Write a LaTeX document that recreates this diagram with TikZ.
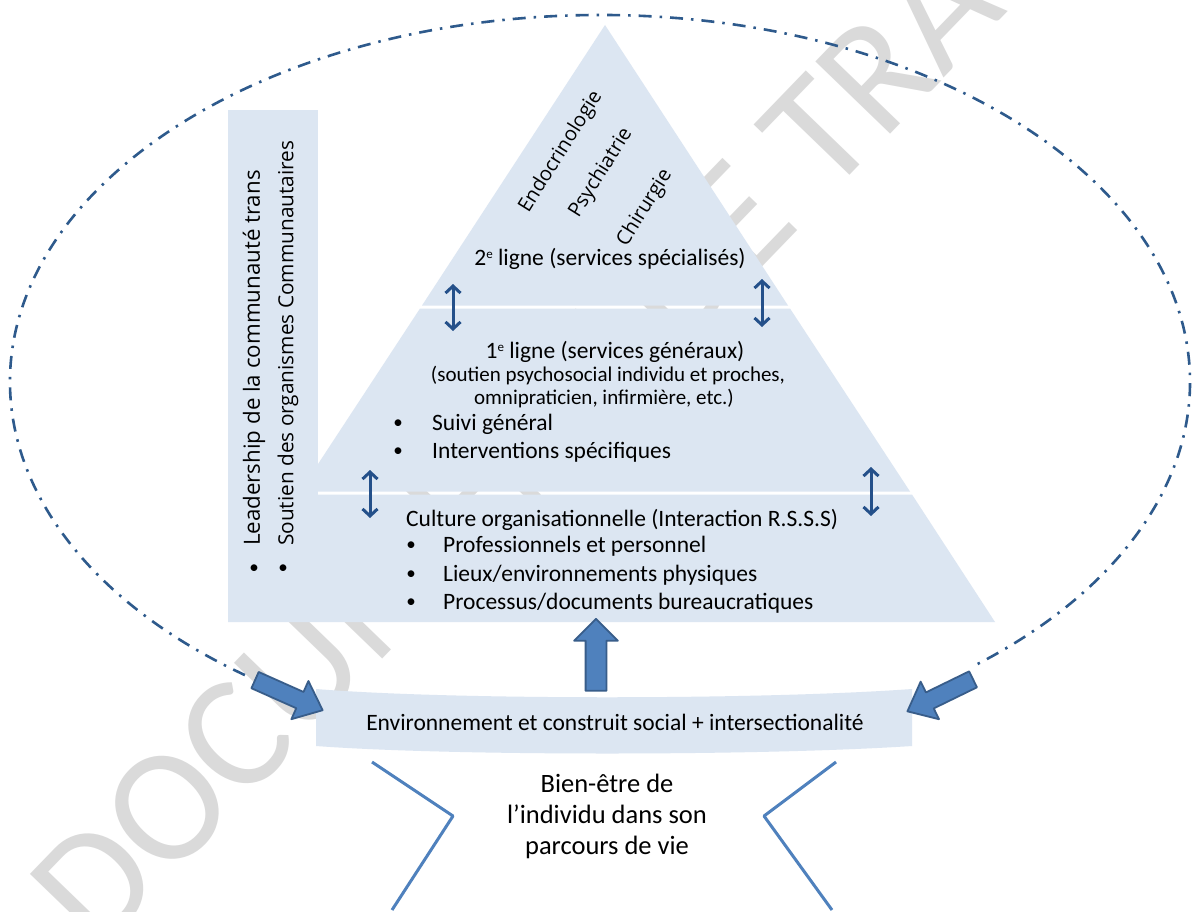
\documentclass[tikz,border=0pt]{standalone}
\usepackage{fontspec}
\setmainfont{Carlito}
\newfontfamily\uifont{Open Sans}
\usetikzlibrary{arrows.meta,calc,positioning,shapes.arrows}
\definecolor{bandFill}{HTML}{DCE6F2}
\definecolor{navyLink}{HTML}{24508A}
\definecolor{ringBlue}{HTML}{2E5A8C}
\definecolor{blockFill}{HTML}{4F81BD}
\definecolor{blockLine}{HTML}{385D8A}
\definecolor{markGray}{HTML}{DADADA}
\newcommand{\supe}{\raisebox{0.6ex}{\fontsize{13}{13}\selectfont e}}

\begin{document}
\begin{tikzpicture}[x=1pt,y=-1pt,>={Straight Barb[length=7pt,width=15pt]},line join=round]
\path[fill=white] (0,0) rectangle (1193,912);
\useasboundingbox (0,0) rectangle (1193,912);
\clip (0,0) rectangle (1193,912);
\tikzset{band/.style={fill=bandFill,draw=none},
  lbl/.style={font=\fontsize{23.5}{27}\selectfont,inner sep=0pt},
  smalllbl/.style={font=\fontsize{21}{24}\selectfont,inner sep=0pt},
  speciality/.style={font=\uifont\fontsize{20}{24}\selectfont,rotate=58,inner sep=0pt},
  sidelbl/.style={font=\uifont\fontsize{22}{26}\selectfont,rotate=90,anchor=west,inner sep=0pt},
  dot/.style={font=\fontsize{19}{23}\selectfont,inner sep=0pt},
  link/.style={draw=navyLink,line width=3pt,<->},
  ring/.style={draw=ringBlue,line width=2.6pt,dash pattern=on 13pt off 8pt on 2.5pt off 8pt},
  fatarrow/.style={single arrow,draw=blockLine,fill=blockFill,line width=1.8pt,inner xsep=0pt,minimum width=0pt},
  bracket/.style={draw=blockFill,line width=3pt}}
% watermark, under everything else
\node[text=markGray,font=\fontsize{162}{162}\selectfont,rotate=46] (draftmark) at (613,346) {DOCUMENT DE TRAVAIL};

% pyramid slices and side column
\path[band] (605,25) -- (788,305.5) -- (422,305.5) -- cycle;
\path[band] (420,308.5) -- (790,308.5) -- (910,491.5) -- (300,491.5) -- cycle;
\path[band] (228,494.5) -- (912,494.5) -- (995,622) -- (228,622) -- cycle;
\path[band] (228,110) rectangle (318,622);

% dash-dot ring
\coordinate (ringC) at (600,382);
\draw[ring] (ringC) ++(127:590 and 367) arc[start angle=127,end angle=411,x radius=590,y radius=367];

% social environment band
\path[band] (316,689) .. controls (450,700) and (760,700) .. (912,689) -- (912,746)
  .. controls (760,756) and (450,756) .. (316,746) -- cycle;
\node[lbl] (env) at (615,722) {Environnement et construit social + intersectionalité};

% block arrows
\node[fatarrow,inner ysep=8pt,single arrow head extend=12pt,single arrow tip angle=80,minimum height=74pt,rotate=-24] (inLeft) at (284,693) {};
\node[fatarrow,inner ysep=8pt,single arrow head extend=12pt,single arrow tip angle=80,minimum height=73pt,rotate=206] (inRight) at (945,693) {};
\node[fatarrow,inner ysep=9.5pt,single arrow head extend=11.5pt,single arrow tip angle=90,minimum height=72pt,rotate=90] (upBase) at (596,660) {};

% links between levels
\coordinate (l1a) at (453,284); \coordinate (l1b) at (453,331);
\coordinate (l2a) at (762,279); \coordinate (l2b) at (762,327);
\coordinate (l3a) at (370,470); \coordinate (l3b) at (370,518);
\coordinate (l4a) at (871,467); \coordinate (l4b) at (871,516);
\draw[link] (l1a) -- (l1b); \draw[link] (l2a) -- (l2b);
\draw[link] (l3a) -- (l3b); \draw[link] (l4a) -- (l4b);

% second line
\node[speciality] (endo) at (561,152) {Endocrinologie};
\node[speciality] (psy) at (601,173) {Psychiatrie};
\node[speciality] (chir) at (645,208) {Chirurgie};
\node[lbl] (second) at (610,259) {2\supe{} ligne (services spécialisés)};

% first line
\node[lbl] (first) at (615,352) {1\supe{} ligne (services généraux)};
\node[smalllbl] (firstA) at (608,376) {(soutien psychosocial individu et proches,};
\node[smalllbl] (firstB) at (604,399) {omnipraticien, infirmière, etc.)};
\node[dot] (b1) at (398,424) {•}; \node[lbl,anchor=west] (suivi) at (432,424) {Suivi général};
\node[dot] (b2) at (398,452) {•}; \node[lbl,anchor=west] (interv) at (432,452) {Interventions spécifiques};

% organisational culture
\node[lbl,anchor=west] (culture) at (406,520) {Culture organisationnelle (Interaction R.S.S.S)};
\node[dot] (b3) at (411,546) {•}; \node[lbl,anchor=west] (pro) at (443,546) {Professionnels et personnel};
\node[dot] (b4) at (411,575) {•}; \node[lbl,anchor=west] (lieux) at (443,575) {Lieux/environnements physiques};
\node[dot] (b5) at (411,603) {•}; \node[lbl,anchor=west] (proc) at (443,603) {Processus/documents bureaucratiques};

% side column
\node[sidelbl,font=\uifont\fontsize{22.3}{26}\selectfont] (lead) at (254,546) {Leadership de la communauté trans};
\node[sidelbl,font=\uifont\fontsize{20.8}{26}\selectfont] (soutien) at (288,546) {Soutien des organismes Communautaires};
\node[dot] (b6) at (254,569) {•}; \node[dot] (b7) at (283,569) {•};

% individual
\draw[bracket] (372,762) -- (453,816) -- (392,910);
\draw[bracket] (836,762) -- (764,816) -- (832,910);
\node[font=\fontsize{26.5}{31}\selectfont,align=center,inner sep=0pt] (person) at (607,816) {Bien-être de\\l’individu dans son\\parcours de vie};
\end{tikzpicture}
\end{document}
